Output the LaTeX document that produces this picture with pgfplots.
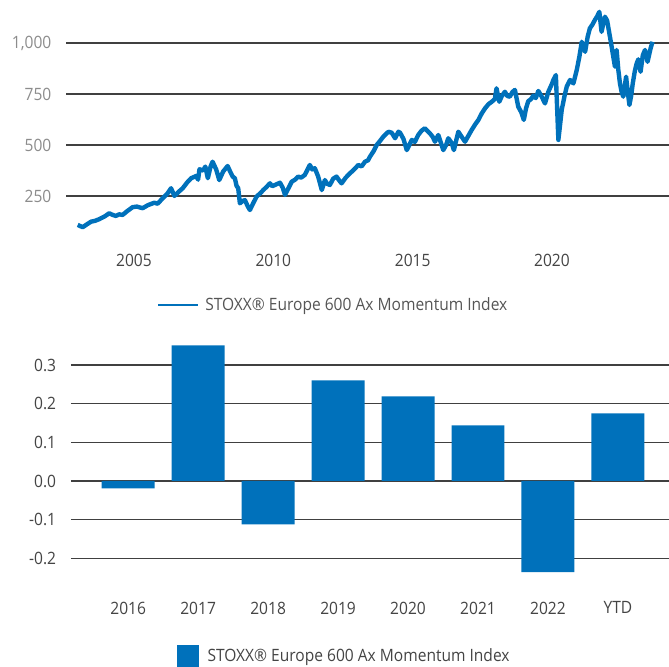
\documentclass[border=0pt]{standalone}
\usepackage{pgfplots}
\usepackage{pgfplotstable}
\pgfplotsset{compat=1.18}
\usepackage{fontspec}
\setmainfont{Open Sans}[FakeStretch=0.915]
\definecolor{stoxx}{RGB}{0,113,187}
\definecolor{lbl}{RGB}{68,68,68}
\definecolor{lblg}{RGB}{140,140,140}
\definecolor{leg}{RGB}{85,85,85}
\newcommand{\chartfont}{\fontsize{12.75pt}{15pt}\selectfont}

\pgfplotstableread{
yr val
2002.98 108
2003.16 97
2003.30 110
2003.46 124
2003.60 128
2003.75 136
2003.95 150
2004.11 165
2004.22 158
2004.35 152
2004.47 160
2004.59 157
2004.75 175
2004.95 195
2005.10 198
2005.31 190
2005.50 205
2005.73 217
2005.85 212
2006.03 239
2006.20 262
2006.33 288
2006.45 250
2006.60 270
2006.75 288
2006.90 315
2007.05 337
2007.23 348
2007.30 330
2007.35 381
2007.48 375
2007.56 394
2007.65 337
2007.75 395
2007.82 418
2007.95 380
2008.06 328
2008.20 370
2008.36 397
2008.45 370
2008.54 345
2008.62 337
2008.68 300
2008.74 288
2008.80 214
2008.90 225
2008.98 230
2009.08 200
2009.16 181
2009.28 215
2009.40 247
2009.52 262
2009.64 279
2009.76 295
2009.88 312
2009.96 298
2010.06 304
2010.24 315
2010.34 290
2010.42 255
2010.55 290
2010.66 320
2010.78 330
2010.89 345
2011.00 340
2011.13 353
2011.31 402
2011.40 380
2011.49 386
2011.61 345
2011.74 279
2011.85 328
2011.93 310
2012.03 304
2012.15 335
2012.27 345
2012.37 325
2012.45 312
2012.60 340
2012.75 361
2012.90 380
2013.05 402
2013.17 395
2013.29 418
2013.40 425
2013.47 443
2013.60 470
2013.71 500
2013.83 520
2013.95 541
2014.13 565
2014.25 560
2014.37 533
2014.49 565
2014.55 560
2014.67 530
2014.79 475
2014.97 525
2015.08 515
2015.20 549
2015.32 570
2015.44 582
2015.62 557
2015.72 540
2015.80 516
2015.92 549
2016.10 475
2016.20 500
2016.28 533
2016.40 510
2016.48 475
2016.64 565
2016.76 540
2016.88 516
2017.00 545
2017.12 574
2017.24 600
2017.36 623
2017.48 655
2017.60 680
2017.72 700
2017.84 712
2017.95 725
2018.01 778
2018.11 712
2018.20 740
2018.31 761
2018.40 740
2018.49 737
2018.58 760
2018.67 770
2018.79 688
2018.90 660
2018.99 623
2019.07 680
2019.15 715
2019.25 725
2019.33 742
2019.42 730
2019.51 765
2019.62 740
2019.75 704
2019.87 761
2020.00 800
2020.05 819
2020.14 843
2020.18 700
2020.23 525
2020.30 610
2020.35 672
2020.45 740
2020.53 786
2020.65 819
2020.77 802
2020.89 868
2020.98 930
2021.07 1006
2021.13 980
2021.19 957
2021.28 1030
2021.36 1072
2021.45 1090
2021.54 1113
2021.62 1130
2021.70 1153
2021.78 1055
2021.85 1100
2021.90 1129
2021.98 1110
2022.06 1047
2022.12 1000
2022.18 950
2022.26 884
2022.32 966
2022.38 870
2022.44 802
2022.50 760
2022.56 737
2022.66 835
2022.72 760
2022.78 696
2022.84 740
2022.90 802
2022.97 860
2023.04 900
2023.10 920
2023.18 859
2023.26 940
2023.34 966
2023.43 908
2023.50 950
2023.54 974
2023.61 1006
}\linedata

\pgfplotstableread{
x val
0 -0.019
1 0.351
2 -0.112
3 0.260
4 0.219
5 0.144
6 -0.236
7 0.175
}\bardata

\begin{document}
\begin{tikzpicture}
\begin{axis}[
  at={(49.5pt,313.5pt)}, anchor=south west,
  scale only axis, width=452.25pt, height=186.75pt,
  xmin=2002.56, xmax=2024.2, ymin=-10, ymax=1211,
  axis line style={draw=none}, major tick length=0pt,
  ymajorgrids, grid style={black!75, line width=0.8pt},
  xtick={2005,2010,2015,2020}, xticklabels={2005,2010,2015,2020},
  ytick={250,500,750,1000}, yticklabels={250,500,750,{1,000}},
  tick label style={font=\chartfont},
  xticklabel style={text=lbl},
  yticklabel style={text=lblg, xshift=-7.5pt},
  /pgf/number format/assume math mode=true,
  legend style={at={(axis description cs:0.4436,-0.2249)}, anchor=center,
    draw=none, fill=none, font=\chartfont, text=leg,
    /tikz/every odd column/.append style={column sep=2.25pt}},
  legend cell align=left,
]
\addplot[stoxx, line width=3.3pt, line join=round,
  legend image code/.code={\draw[stoxx, line width=2pt] (0pt,0pt) -- (30pt,0pt);}]
  table[x=yr, y=val]{\linedata};
\addlegendentry{STOXX® Europe 600 Ax Momentum Index}
\end{axis}

\begin{axis}[
  at={(53.1pt,52.5pt)}, anchor=south west,
  scale only axis, width=448.65pt, height=194.3pt,
  xmin=-0.82, xmax=7.73, ymin=-0.30, ymax=0.37,
  axis line style={draw=none}, major tick length=0pt,
  ymajorgrids, grid style={black!75, line width=0.8pt},
  xtick={0,1,2,3,4,5,6,7},
  xticklabels={2016,2017,2018,2019,2020,2021,2022,YTD},
  ytick={-0.2,-0.1,0,0.1,0.2,0.3},
  yticklabels={-0.2,-0.1,0.0,0.1,0.2,0.3},
  tick label style={font=\chartfont, text=lbl},
  yticklabel style={xshift=-7.5pt},
  /pgf/number format/assume math mode=true,
  legend style={at={(axis description cs:0.4577,-0.2277)}, anchor=center,
    draw=none, fill=none, font=\chartfont, text=lbl,
    /tikz/every odd column/.append style={column sep=4.5pt}},
  legend cell align=left,
]
\addplot[ybar, bar width=0.757, fill=stoxx, draw=none,
  legend image code/.code={\fill[stoxx] (0pt,-8.25pt) rectangle (16.5pt,8.25pt);}]
  table[x=x, y=val]{\bardata};
\addlegendentry{STOXX® Europe 600 Ax Momentum Index}
\end{axis}
\pgfresetboundingbox
\useasboundingbox (0pt,0pt) rectangle (501.75pt,500.25pt);
\end{tikzpicture}
\end{document}
